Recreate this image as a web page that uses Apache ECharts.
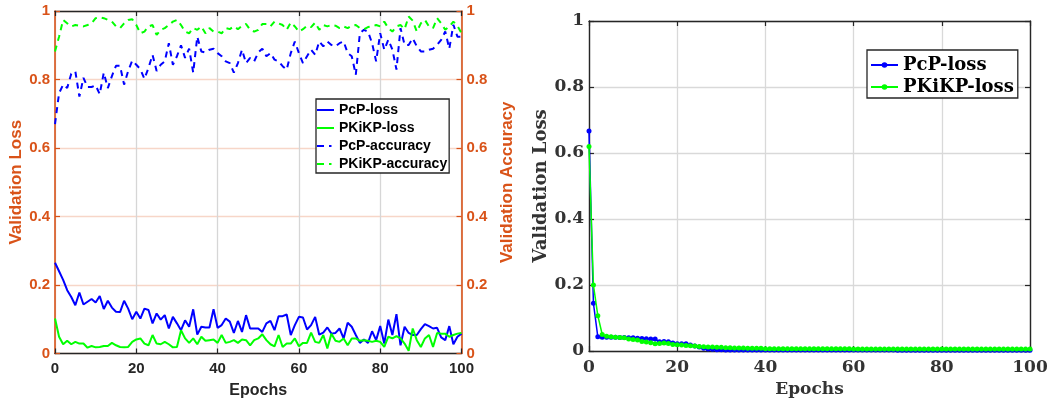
<!DOCTYPE html>
<html>
<head>
<meta charset="utf-8">
<script src="https://cdn.jsdelivr.net/npm/echarts@6/dist/echarts.min.js"></script>
<style>
html,body{margin:0;padding:0;background:#fff;}
#chart{width:1059px;height:406px;}
</style>
</head>
<body>
<div id="chart"></div>
<script>
// ---- Data ----
const xTicks = [0, 20, 40, 60, 80, 100];
const yTicks = [0, 0.2, 0.4, 0.6, 0.8, 1];

// Left panel: validation loss / accuracy per epoch (epochs 0..100)
const pcpLoss = [
  0.265,0.24,0.215,0.185,0.165,0.141,0.178,0.143,0.151,0.159,
  0.149,0.168,0.13,0.154,0.134,0.122,0.121,0.154,0.131,0.10,
  0.122,0.102,0.131,0.127,0.088,0.117,0.099,0.112,0.073,0.107,
  0.088,0.068,0.097,0.078,0.129,0.055,0.078,0.076,0.076,0.129,
  0.075,0.083,0.102,0.093,0.06,0.095,0.063,0.112,0.073,0.073,
  0.073,0.063,0.088,0.095,0.068,0.109,0.109,0.114,0.054,0.083,
  0.107,0.105,0.07,0.083,0.107,0.055,0.061,0.076,0.058,0.06,
  0.073,0.044,0.09,0.078,0.054,0.031,0.041,0.031,0.065,0.039,
  0.08,0.029,0.099,0.054,0.115,0.024,0.078,0.06,0.054,0.054,
  0.071,0.086,0.08,0.073,0.075,0.047,0.039,0.08,0.027,0.049,
  0.058
];
const pkikpLoss = [
  0.102,0.049,0.027,0.037,0.027,0.034,0.029,0.029,0.017,0.022,
  0.018,0.019,0.022,0.022,0.031,0.024,0.019,0.018,0.019,0.034,
  0.041,0.044,0.029,0.024,0.054,0.029,0.027,0.034,0.027,0.018,
  0.019,0.068,0.044,0.031,0.044,0.027,0.049,0.037,0.039,0.041,
  0.031,0.054,0.031,0.034,0.039,0.031,0.041,0.039,0.024,0.039,
  0.044,0.056,0.039,0.027,0.021,0.054,0.019,0.029,0.029,0.044,
  0.021,0.031,0.031,0.061,0.034,0.031,0.054,0.015,0.058,0.037,
  0.034,0.044,0.024,0.044,0.044,0.037,0.039,0.037,0.034,0.037,
  0.034,0.019,0.049,0.044,0.051,0.044,0.029,0.008,0.073,0.039,
  0.019,0.044,0.054,0.019,0.06,0.058,0.058,0.049,0.054,0.058,
  0.06
];
const pcpAcc = [
  0.67,0.76,0.785,0.775,0.817,0.824,0.75,0.805,0.778,0.778,
  0.783,0.757,0.82,0.775,0.81,0.84,0.84,0.785,0.825,0.855,
  0.843,0.83,0.802,0.834,0.872,0.825,0.843,0.853,0.906,0.843,
  0.868,0.9,0.863,0.89,0.82,0.925,0.882,0.879,0.887,0.89,
  0.877,0.868,0.853,0.848,0.82,0.848,0.887,0.848,0.863,0.853,
  0.879,0.89,0.868,0.877,0.858,0.853,0.839,0.829,0.877,0.911,
  0.877,0.848,0.868,0.887,0.872,0.911,0.897,0.911,0.901,0.897,
  0.906,0.911,0.877,0.868,0.814,0.935,0.945,0.94,0.906,0.853,
  0.935,0.887,0.916,0.887,0.829,0.95,0.901,0.901,0.92,0.897,
  0.882,0.882,0.887,0.89,0.901,0.916,0.94,0.89,0.96,0.925,
  0.925
];
const pkikpAcc = [
  0.882,0.925,0.974,0.964,0.955,0.959,0.957,0.955,0.959,0.964,
  0.979,0.982,0.979,0.974,0.969,0.955,0.95,0.964,0.974,0.976,
  0.959,0.935,0.94,0.955,0.959,0.93,0.945,0.95,0.959,0.969,
  0.974,0.959,0.94,0.935,0.95,0.945,0.955,0.935,0.95,0.94,
  0.94,0.935,0.95,0.947,0.955,0.947,0.957,0.962,0.945,0.94,
  0.945,0.962,0.962,0.955,0.969,0.964,0.959,0.945,0.966,0.955,
  0.94,0.947,0.957,0.953,0.966,0.945,0.959,0.955,0.959,0.957,
  0.95,0.955,0.95,0.957,0.959,0.95,0.947,0.953,0.955,0.959,
  0.955,0.969,0.95,0.94,0.955,0.959,0.947,0.984,0.972,0.94,
  0.964,0.974,0.955,0.95,0.979,0.964,0.945,0.955,0.969,0.957,
  0.935
];

// Right panel: validation loss per epoch (epochs 0..100)
const pcpLossR = [
  0.667,0.145,0.043,0.042,0.042,0.042,0.042,0.041,0.041,0.040,
  0.040,0.039,0.038,0.037,0.036,0.036,0.028,0.029,0.028,0.024,
  0.022,0.022,0.022,0.018,0.015,0.012,0.008,0.006,0.005,0.004,
  0.004,0.003,0.003,0.003,0.003,0.003,0.003,0.003,0.003,0.003,
  0.003,0.003,0.003,0.003,0.003,0.003,0.003,0.003,0.003,0.003,
  0.003,0.003,0.003,0.003,0.003,0.003,0.003,0.003,0.003,0.003,
  0.003,0.003,0.003,0.003,0.003,0.003,0.003,0.003,0.003,0.003,
  0.002,0.002,0.002,0.002,0.002,0.002,0.002,0.002,0.002,0.002,
  0.002,0.002,0.002,0.002,0.002,0.002,0.002,0.002,0.002,0.002,
  0.002,0.002,0.002,0.002,0.002,0.002,0.002,0.002,0.002,0.002,
  0.002
];
const pkikpLossR = [
  0.62,0.2,0.107,0.05,0.045,0.043,0.042,0.041,0.040,0.036,
  0.035,0.033,0.029,0.027,0.025,0.022,0.023,0.024,0.023,0.020,
  0.019,0.018,0.017,0.016,0.015,0.014,0.013,0.012,0.012,0.011,
  0.011,0.010,0.010,0.009,0.009,0.009,0.008,0.008,0.008,0.008,
  0.007,0.007,0.007,0.007,0.007,0.007,0.007,0.007,0.007,0.007,
  0.007,0.007,0.007,0.007,0.007,0.007,0.007,0.007,0.007,0.007,
  0.006,0.006,0.006,0.006,0.006,0.006,0.006,0.006,0.006,0.006,
  0.006,0.006,0.006,0.006,0.006,0.006,0.006,0.006,0.006,0.006,
  0.006,0.006,0.006,0.006,0.006,0.006,0.006,0.006,0.006,0.006,
  0.006,0.006,0.006,0.006,0.006,0.006,0.006,0.006,0.006,0.006,
  0.006
];

const leftNames = ['PcP-loss', 'PKiKP-loss', 'PcP-accuracy', 'PKiKP-accuracy'];
const rightNames = ['PcP-loss ', 'PKiKP-loss ']; // trailing space keeps them distinct from left series

// ---- Styling ----
const ORANGE = '#D95319';
const DARK = '#262626';
const SANS = '"Liberation Sans", Arial, sans-serif';
const SERIF = '"DejaVu Serif", serif';
const BLUE = '#0000FF';
const GREEN = '#00FF00';
const SOLID_ICON = 'path://M0,0H17V2H0Z';
const DASH_ICON = 'path://M0,0H7V2H0Z M12,0H14.5V2H12Z M14.5,0H17V0.01H14.5Z';

const pairs = arr => arr.map((v, i) => [i, v]);

const xMin = xTicks[0], xMax = xTicks[xTicks.length - 1], xStep = xTicks[1] - xTicks[0];
const yMin = yTicks[0], yMax = yTicks[yTicks.length - 1], yStep = yTicks[1] - yTicks[0];

function xAx(grid, pos, opts) {
  return Object.assign({
    type: 'value', gridIndex: grid, position: pos,
    min: xMin, max: xMax, interval: xStep,
    axisLine: { show: true, onZero: false, lineStyle: { color: DARK, width: 1.4 } },
    axisTick: { show: true, inside: true, length: 5, lineStyle: { color: DARK, width: 1.2 } },
    axisLabel: { show: false },
    splitLine: { show: false }
  }, opts);
}
function yAx(grid, pos, opts) {
  return Object.assign({
    type: 'value', gridIndex: grid, position: pos,
    min: yMin, max: yMax, interval: yStep,
    axisLine: { show: true, onZero: false, lineStyle: { color: DARK, width: 1.4 } },
    axisTick: { show: true, inside: true, length: 5, lineStyle: { color: DARK, width: 1.2 } },
    axisLabel: { show: false },
    splitLine: { show: false }
  }, opts);
}

const option = {
  animation: false,
  backgroundColor: '#ffffff',
  grid: [
    { left: 55, top: 11, right: 597.5, bottom: 52.5, containLabel: false },
    { left: 589, top: 21, right: 29, bottom: 55, containLabel: false }
  ],
  xAxis: [
    xAx(0, 'bottom', {
      axisLabel: { show: true, margin: 8, color: DARK, fontFamily: SANS, fontWeight: 'bold', fontSize: 15 },
      splitLine: { show: true, lineStyle: { color: '#d6d6d6', width: 1.3 } },
      name: 'Epochs', nameLocation: 'middle', nameGap: 29,
      nameTextStyle: { color: DARK, fontFamily: SANS, fontWeight: 'bold', fontSize: 16 }
    }),
    xAx(0, 'top', {}),
    xAx(1, 'bottom', {
      axisLabel: { show: true, margin: 8, color: '#333333', fontFamily: SERIF, fontWeight: 'bold', fontSize: 17 },
      splitLine: { show: true, lineStyle: { color: '#d9d9d9', width: 1.3 } },
      name: 'Epochs', nameLocation: 'middle', nameGap: 30,
      nameTextStyle: { color: '#333333', fontFamily: SERIF, fontWeight: 'bold', fontSize: 17 }
    }),
    xAx(1, 'top', {})
  ],
  yAxis: [
    yAx(0, 'left', {
      axisLine: { show: true, onZero: false, lineStyle: { color: ORANGE, width: 1.6 } },
      axisTick: { show: true, inside: true, length: 5, lineStyle: { color: ORANGE, width: 1.2 } },
      axisLabel: { show: true, margin: 5, color: ORANGE, fontFamily: SANS, fontWeight: 'bold', fontSize: 15 },
      splitLine: { show: true, lineStyle: { color: '#f7d6c8', width: 1.3 } },
      name: 'Validation Loss', nameLocation: 'middle', nameGap: 29, nameRotate: 90,
      nameTextStyle: { color: ORANGE, fontFamily: SANS, fontWeight: 'bold', fontSize: 17 }
    }),
    yAx(0, 'right', {
      axisLine: { show: true, onZero: false, lineStyle: { color: ORANGE, width: 1.6 } },
      axisTick: { show: true, inside: true, length: 5, lineStyle: { color: ORANGE, width: 1.2 } },
      axisLabel: { show: true, margin: 5, color: ORANGE, fontFamily: SANS, fontWeight: 'bold', fontSize: 15 },
      name: 'Validation Accuracy', nameLocation: 'middle', nameGap: 37, nameRotate: 90,
      nameTextStyle: { color: ORANGE, fontFamily: SANS, fontWeight: 'bold', fontSize: 17 }
    }),
    yAx(1, 'left', {
      axisLabel: { show: true, margin: 5, color: '#333333', fontFamily: SERIF, fontWeight: 'bold', fontSize: 17 },
      splitLine: { show: true, lineStyle: { color: '#d9d9d9', width: 1.3 } },
      name: 'Validation Loss', nameLocation: 'middle', nameGap: 39, nameRotate: 90,
      nameTextStyle: { color: '#333333', fontFamily: SERIF, fontWeight: 'bold', fontSize: 18 }
    }),
    yAx(1, 'right', {})
  ],
  legend: [
    {
      data: [
        { name: leftNames[0], icon: SOLID_ICON },
        { name: leftNames[1], icon: SOLID_ICON },
        { name: leftNames[2], icon: DASH_ICON },
        { name: leftNames[3], icon: DASH_ICON }
      ],
      orient: 'vertical',
      left: 316, top: 99,
      padding: [4, 2, 2, 1],
      itemGap: 4,
      itemWidth: 17, itemHeight: 14,
      symbolKeepAspect: true,
      backgroundColor: '#ffffff',
      borderColor: DARK, borderWidth: 1.3, borderRadius: 0,
      textStyle: { color: '#000000', fontFamily: SANS, fontWeight: 'bold', fontSize: 14, lineHeight: 14 }
    },
    {
      data: rightNames,
      orient: 'vertical',
      left: 867, top: 50,
      padding: [6, 4, 2, 3],
      itemGap: 4,
      itemWidth: 27, itemHeight: 7,
      backgroundColor: '#ffffff',
      borderColor: DARK, borderWidth: 1.3, borderRadius: 0,
      formatter: n => n.trim(),
      textStyle: { color: '#000000', fontFamily: SERIF, fontWeight: 'bold', fontSize: 18, lineHeight: 18 }
    }
  ],
  series: [
    { name: leftNames[0], type: 'line', xAxisIndex: 0, yAxisIndex: 0, data: pairs(pcpLoss),
      symbol: 'none', color: BLUE, lineStyle: { color: BLUE, width: 2 }, z: 3 },
    { name: leftNames[1], type: 'line', xAxisIndex: 0, yAxisIndex: 0, data: pairs(pkikpLoss),
      symbol: 'none', color: GREEN, lineStyle: { color: GREEN, width: 2 }, z: 3 },
    { name: leftNames[2], type: 'line', xAxisIndex: 0, yAxisIndex: 1, data: pairs(pcpAcc),
      symbol: 'none', color: BLUE, lineStyle: { color: BLUE, width: 2, type: [6, 5] }, z: 3 },
    { name: leftNames[3], type: 'line', xAxisIndex: 0, yAxisIndex: 1, data: pairs(pkikpAcc),
      symbol: 'none', color: GREEN, lineStyle: { color: GREEN, width: 2, type: [6, 5] }, z: 3 },
    { name: rightNames[0], type: 'line', xAxisIndex: 2, yAxisIndex: 2, data: pairs(pcpLossR),
      symbol: 'circle', symbolSize: 5, color: BLUE, lineStyle: { color: BLUE, width: 1.5 },
      itemStyle: { color: BLUE }, z: 3 },
    { name: rightNames[1], type: 'line', xAxisIndex: 2, yAxisIndex: 2, data: pairs(pkikpLossR),
      symbol: 'circle', symbolSize: 5, color: GREEN, lineStyle: { color: GREEN, width: 1.5 },
      itemStyle: { color: GREEN }, z: 4 }
  ]
};

const chart = echarts.init(document.getElementById('chart'), null, { renderer: 'canvas' });
chart.setOption(option);
</script>
</body>
</html>
